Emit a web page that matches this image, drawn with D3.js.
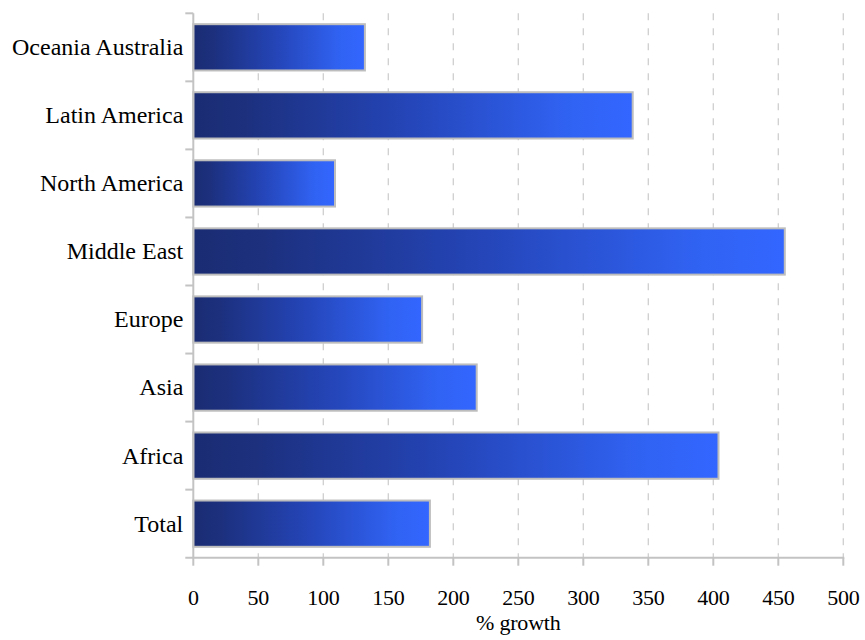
<!DOCTYPE html>
<html>
<head>
<meta charset="utf-8">
<script src="https://cdn.jsdelivr.net/npm/d3@7"></script>
<style>
  html, body { margin: 0; padding: 0; background: #fff; }
  svg { display: block; }
  svg text { font-family: "Liberation Serif", "DejaVu Serif", serif; }
</style>
</head>
<body>
<svg id="chart" width="865" height="640"></svg>
<script>
const categories = ["Oceania Australia", "Latin America", "North America", "Middle East", "Europe", "Asia", "Africa", "Total"];
const growth = [132, 338, 109, 455, 176, 218, 404, 182];
const xTicks = [0, 50, 100, 150, 200, 250, 300, 350, 400, 450, 500];
const xLabel = "% growth";

(function () {
const svg = d3.select("#chart");
const mLeft = 193.3, mRight = 843.3, mTop = 13.3, mBottom = 557.7;
const font = "'Liberation Serif', 'DejaVu Serif', serif";

const x = d3.scaleLinear().domain([0, 500]).range([mLeft, mRight]);
const y = d3.scaleBand().domain(categories).range([mTop, mBottom]).paddingInner(0.32).paddingOuter(0.16);
const yEdges = d3.scaleBand().domain(categories).range([mTop, mBottom]).padding(0);

const defs = svg.append("defs");
const grad = defs.append("linearGradient").attr("id", "barGrad")
  .attr("x1", "0").attr("x2", "1").attr("y1", "0").attr("y2", "0");
[[0, "#1a2c72"], [0.12, "#1c307e"], [0.5, "#2546ba"], [0.85, "#3062f2"], [1, "#3366ff"]]
  .forEach(([o, c]) => grad.append("stop").attr("offset", o).attr("stop-color", c));

const axisColor = "#c3c3c3";

// gridlines
svg.append("g").selectAll("line").data(xTicks.filter(d => d > 0)).join("line")
  .attr("x1", d => x(d)).attr("x2", d => x(d))
  .attr("y1", mTop).attr("y2", mBottom)
  .attr("stroke", "#cfcfcf").attr("stroke-width", 1.3)
  .attr("stroke-dasharray", "7,8");

// bars
svg.append("g").selectAll("rect").data(categories).join("rect")
  .attr("x", x(0))
  .attr("y", d => y(d))
  .attr("width", (d, i) => x(growth[i]) - x(0))
  .attr("height", y.bandwidth())
  .attr("fill", "url(#barGrad)")
  .attr("stroke", "#bdbdbd").attr("stroke-width", 2);

// y axis
const yAxis = svg.append("g");
yAxis.append("line").attr("x1", mLeft).attr("x2", mLeft).attr("y1", mTop).attr("y2", mBottom)
  .attr("stroke", axisColor).attr("stroke-width", 2);
const edges = categories.map(c => yEdges(c));
yAxis.selectAll("line.tk").data(edges).join("line").attr("class", "tk")
  .attr("x1", mLeft - 8).attr("x2", mLeft).attr("y1", d => d).attr("y2", d => d)
  .attr("stroke", axisColor).attr("stroke-width", 2);
yAxis.selectAll("text").data(categories).join("text")
  .attr("x", mLeft - 10)
  .attr("y", d => y(d) + y.bandwidth() / 2)
  .attr("dy", "0.33em")
  .attr("text-anchor", "end")
  .attr("font-family", font)
  .attr("font-size", 24)
  .attr("fill", "#000")
  .text(d => d);

// x axis
const xAxis = svg.append("g");
xAxis.append("line").attr("x1", mLeft - 8).attr("x2", mRight + 1).attr("y1", mBottom).attr("y2", mBottom)
  .attr("stroke", axisColor).attr("stroke-width", 2);
xAxis.selectAll("line.tk").data(xTicks).join("line").attr("class", "tk")
  .attr("x1", d => x(d)).attr("x2", d => x(d)).attr("y1", mBottom).attr("y2", mBottom + 8)
  .attr("stroke", axisColor).attr("stroke-width", 2);
xAxis.selectAll("text").data(xTicks).join("text")
  .attr("x", d => x(d)).attr("y", 605)
  .attr("text-anchor", "middle")
  .attr("font-family", font)
  .attr("font-size", 22)
  .attr("letter-spacing", -0.3)
  .attr("fill", "#000")
  .text(d => d);

svg.append("text")
  .attr("x", (mLeft + mRight) / 2).attr("y", 630)
  .attr("text-anchor", "middle")
  .attr("font-family", font)
  .attr("font-size", 22)
  .attr("letter-spacing", -0.2)
  .attr("fill", "#000")
  .text(xLabel);
})();
</script>
</body>
</html>
